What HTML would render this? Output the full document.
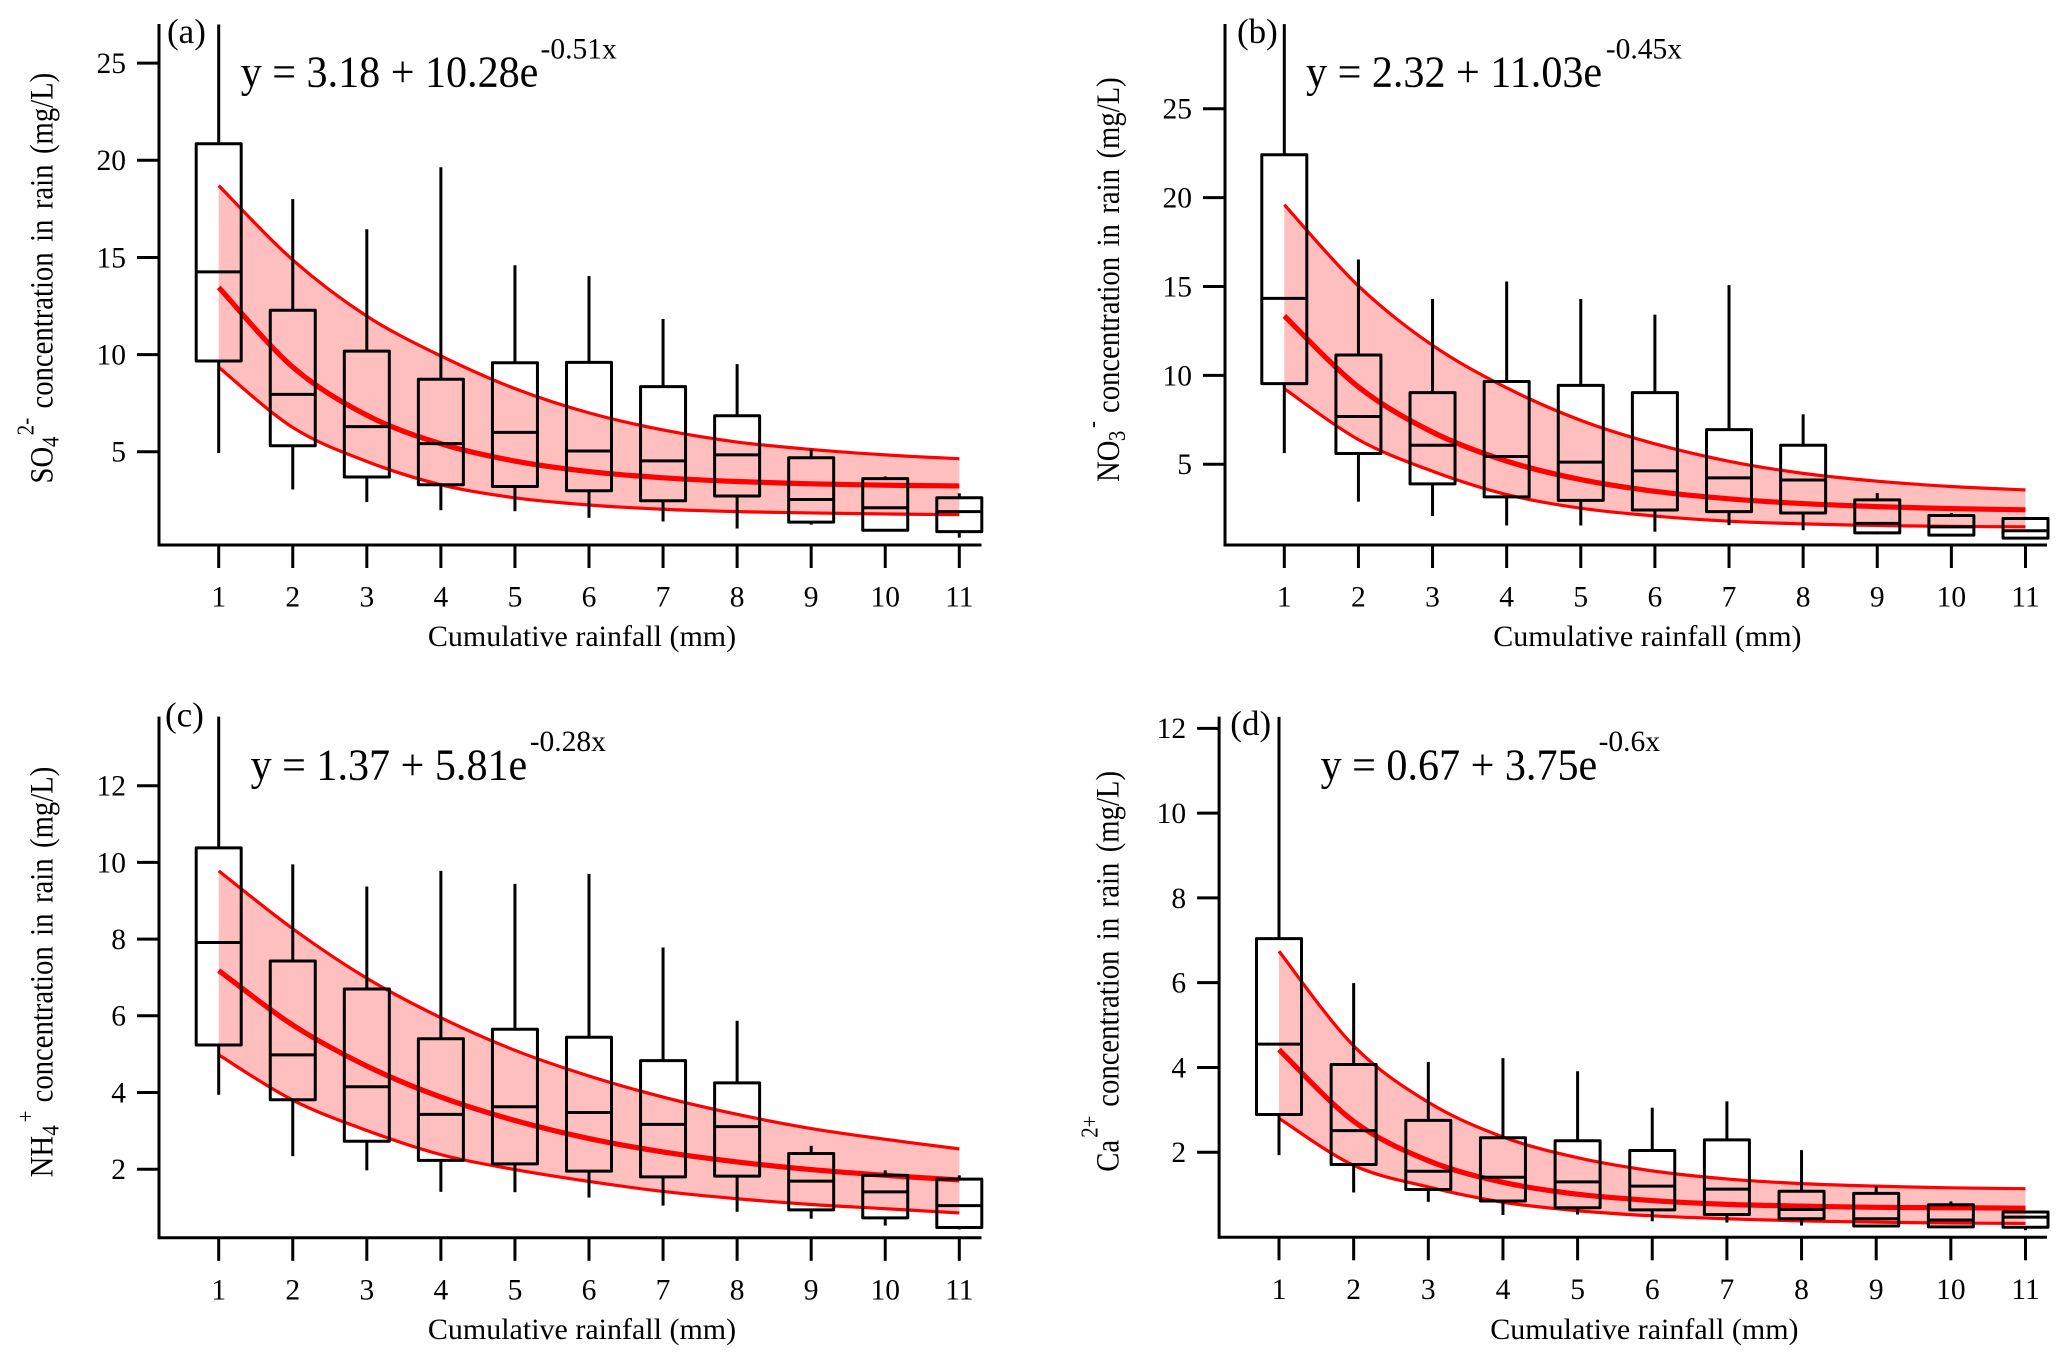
<!DOCTYPE html>
<html lang="en">
<head>
<meta charset="utf-8">
<title>Ion concentration in rain vs cumulative rainfall</title>
<style>
html,body{margin:0;padding:0;background:#fff;}
svg{display:block;}
text{font-family:"Liberation Serif",serif;fill:#000;}
.ytitle{font-size:33px;word-spacing:3.8px;}
.ss{font-size:24px;}
</style>
</head>
<body>
<svg id="figure" xmlns="http://www.w3.org/2000/svg" width="2067" height="1362" viewBox="0 0 2067 1362">
<rect width="2067" height="1362" fill="#fff"/>

<g id="panel-a"></g>
<g id="panel-b"></g>
<g id="panel-c"></g>
<g id="panel-d"></g>

<!-- Panel a text -->
<text x="167" y="43" font-size="35">(a)</text>
<text transform="translate(240.7,86.7) scale(0.957,1)" font-size="44">y = 3.18 + 10.28e</text>
<text x="540.5" y="58.5" font-size="29.5">-0.51x</text>
<text x="582" y="646" font-size="30" text-anchor="middle">Cumulative rainfall (mm)</text>
<text class="ytitle" transform="translate(52.3,483.5) rotate(-90) scale(0.87,1)">SO<tspan class="ss" x="42" dy="6">4</tspan><tspan class="ss" x="55.5" dy="-25">2-</tspan><tspan x="86.2" dy="19">concentration in rain (mg/L)</tspan></text>

<!-- Panel b text -->
<text x="1237" y="43" font-size="35">(b)</text>
<text transform="translate(1306,86.7) scale(0.957,1)" font-size="44">y = 2.32 + 11.03e</text>
<text x="1605.8" y="58.5" font-size="29.5">-0.45x</text>
<text x="1647.4" y="646" font-size="30" text-anchor="middle">Cumulative rainfall (mm)</text>
<text class="ytitle" transform="translate(1118.8,482) rotate(-90) scale(0.87,1)">NO<tspan class="ss" x="47" dy="6">3</tspan><tspan class="ss" x="62" dy="-25">-</tspan><tspan x="79.3" dy="19">concentration in rain (mg/L)</tspan></text>

<!-- Panel c text -->
<text x="165" y="726.6" font-size="35">(c)</text>
<text transform="translate(250.6,779.4) scale(0.957,1)" font-size="44">y = 1.37 + 5.81e</text>
<text x="529.7" y="751" font-size="29.5">-0.28x</text>
<text x="582" y="1339" font-size="30" text-anchor="middle">Cumulative rainfall (mm)</text>
<text class="ytitle" transform="translate(52.3,1177.4) rotate(-90) scale(0.87,1)">NH<tspan class="ss" x="48" dy="6">4</tspan><tspan class="ss" x="63.2" dy="-25">+</tspan><tspan x="86.2" dy="19">concentration in rain (mg/L)</tspan></text>

<!-- Panel d text -->
<text x="1230.3" y="735" font-size="35">(d)</text>
<text transform="translate(1320.6,779.4) scale(0.957,1)" font-size="44">y = 0.67 + 3.75e</text>
<text x="1598.6" y="751" font-size="29.5">-0.6x</text>
<text x="1644.4" y="1339" font-size="30" text-anchor="middle">Cumulative rainfall (mm)</text>
<text class="ytitle" transform="translate(1118.3,1171.7) rotate(-90) scale(0.87,1)">Ca<tspan class="ss" x="39" dy="-21">2+</tspan><tspan x="74.7" dy="21">concentration in rain (mg/L)</tspan></text>
</svg>

<script>
const categories = [1, 2, 3, 4, 5, 6, 7, 8, 9, 10, 11];

const aYTicks = [5, 10, 15, 20, 25];
const aHigh = [26.99, 18.0, 16.45, 19.64, 14.6, 14.04, 11.83, 9.51, 5.11, 3.73, 2.86];
const aQ3 = [20.85, 12.28, 10.18, 8.73, 9.58, 9.6, 8.35, 6.85, 4.69, 3.62, 2.63];
const aMedian = [14.26, 7.95, 6.29, 5.42, 6.0, 5.04, 4.53, 4.84, 2.54, 2.12, 1.92];
const aQ1 = [9.67, 5.31, 3.7, 3.3, 3.21, 2.99, 2.48, 2.72, 1.38, 0.96, 0.89];
const aLow = [4.93, 3.06, 2.41, 1.99, 1.94, 1.6, 1.41, 1.05, 1.25, 0.96, 0.58];
const aBandUpper = [18.7, 14.87, 11.98, 9.93, 8.25, 7.0, 6.12, 5.5, 5.12, 4.84, 4.64];
const aFit = [13.46, 9.36, 6.88, 5.41, 4.52, 3.98, 3.66, 3.47, 3.35, 3.28, 3.24];
const aBandLower = [9.35, 6.25, 4.5, 3.3, 2.63, 2.26, 2.04, 1.92, 1.85, 1.8, 1.76];

const bYTicks = [5, 10, 15, 20, 25];
const bHigh = [29.76, 16.52, 14.3, 15.28, 14.3, 13.42, 15.08, 7.81, 3.39, 2.26, 2.04];
const bQ3 = [22.41, 11.15, 9.03, 9.66, 9.44, 9.03, 6.95, 6.07, 3.0, 2.12, 1.95];
const bMedian = [14.33, 7.69, 6.07, 5.44, 5.12, 4.63, 4.24, 4.12, 1.68, 1.48, 1.26];
const bQ1 = [9.54, 5.61, 3.9, 3.17, 2.97, 2.43, 2.34, 2.26, 1.14, 1.02, 0.85];
const bLow = [5.63, 2.9, 2.09, 1.56, 1.56, 1.21, 1.58, 1.29, 1.07, 1.02, 0.85];
const bBandUpper = [19.6, 15.03, 11.69, 9.3, 7.47, 6.15, 5.17, 4.49, 4.05, 3.75, 3.56];
const bFit = [13.35, 9.35, 6.81, 5.18, 4.14, 3.48, 3.06, 2.79, 2.62, 2.51, 2.44];
const bBandLower = [9.25, 6.39, 4.61, 3.3, 2.53, 2.09, 1.8, 1.65, 1.56, 1.51, 1.48];

const cYTicks = [2, 4, 6, 8, 10, 12];
const cHigh = [13.8, 9.95, 9.37, 9.78, 9.44, 9.7, 7.78, 5.87, 2.61, 1.97, 1.84];
const cQ3 = [10.38, 7.43, 6.7, 5.4, 5.65, 5.44, 4.83, 4.25, 2.41, 1.84, 1.74];
const cMedian = [7.91, 4.98, 4.15, 3.43, 3.63, 3.48, 3.17, 3.11, 1.69, 1.41, 1.05];
const cQ1 = [5.24, 3.81, 2.73, 2.23, 2.14, 1.95, 1.8, 1.82, 0.94, 0.73, 0.48];
const cLow = [3.94, 2.34, 1.97, 1.41, 1.4, 1.26, 1.05, 0.89, 0.71, 0.53, 0.43];
const cBandUpper = [9.78, 8.27, 6.98, 5.95, 5.1, 4.43, 3.88, 3.43, 3.06, 2.78, 2.53];
const cFit = [7.18, 5.76, 4.69, 3.88, 3.27, 2.8, 2.45, 2.19, 1.99, 1.84, 1.72];
const cBandLower = [4.98, 3.8, 3.01, 2.38, 1.99, 1.68, 1.42, 1.23, 1.08, 0.97, 0.86];

const dYTicks = [2, 4, 6, 8, 10, 12];
const dHigh = [12.27, 5.99, 4.13, 4.22, 3.91, 3.05, 3.2, 2.05, 1.19, 0.84, 0.6];
const dQ3 = [7.04, 4.07, 2.75, 2.34, 2.27, 2.04, 2.29, 1.08, 1.03, 0.76, 0.59];
const dMedian = [4.55, 2.51, 1.55, 1.41, 1.3, 1.2, 1.13, 0.65, 0.43, 0.4, 0.47];
const dQ1 = [2.89, 1.71, 1.12, 0.85, 0.69, 0.64, 0.53, 0.43, 0.26, 0.24, 0.23];
const dLow = [1.93, 1.05, 0.83, 0.52, 0.53, 0.37, 0.34, 0.27, 0.25, 0.23, 0.16];
const dBandUpper = [6.74, 4.51, 3.18, 2.36, 1.87, 1.56, 1.37, 1.26, 1.2, 1.16, 1.14];
const dFit = [4.42, 2.73, 1.8, 1.29, 1.01, 0.86, 0.77, 0.73, 0.7, 0.69, 0.68];
const dBandLower = [2.8, 1.69, 1.18, 0.82, 0.62, 0.5, 0.43, 0.38, 0.35, 0.33, 0.32];

const SVG_NS = 'http://www.w3.org/2000/svg';
const STROKE = 3;
const BOX_HALF = 22.5;
const TICK_LEN = 22;
const BAND_FILL = '#ffbfbf';
const LINE_RED = '#ff0000';

function make(parent, tag, attrs, text) {
  const el = document.createElementNS(SVG_NS, tag);
  for (const k in attrs) el.setAttribute(k, attrs[k]);
  if (text !== undefined) el.textContent = text;
  parent.appendChild(el);
  return el;
}

function spline(points) {
  let d = '';
  for (let i = 0; i < points.length - 1; i++) {
    const p0 = points[Math.max(i - 1, 0)];
    const p1 = points[i];
    const p2 = points[i + 1];
    const p3 = points[Math.min(i + 2, points.length - 1)];
    const c1x = p1[0] + (p2[0] - p0[0]) / 6;
    const c1y = p1[1] + (p2[1] - p0[1]) / 6;
    const c2x = p2[0] - (p3[0] - p1[0]) / 6;
    const c2y = p2[1] - (p3[1] - p1[1]) / 6;
    d += ' C' + c1x.toFixed(2) + ' ' + c1y.toFixed(2) + ' ' + c2x.toFixed(2) + ' ' + c2y.toFixed(2) + ' ' + p2[0].toFixed(2) + ' ' + p2[1].toFixed(2);
  }
  return d;
}

function drawPanel(p) {
  const root = document.getElementById('panel-' + p.id);
  const xScale = function (c) { return p.xFirst + (c - categories[0]) * p.xStep; };
  const yScale = function (v) { return p.yZero - v * p.yUnit; };
  const toPoints = function (vals) { return vals.map(function (v, i) { return [xScale(categories[i]), yScale(v)]; }); };

  const upper = toPoints(p.bandUpper);
  const lower = toPoints(p.bandLower);
  const fit = toPoints(p.fit);
  const rev = lower.slice().reverse();

  const band = make(root, 'path', {
    d: 'M' + upper[0][0] + ' ' + upper[0][1] + spline(upper) + ' L' + rev[0][0] + ' ' + rev[0][1] + spline(rev) + ' Z',
    fill: BAND_FILL, stroke: 'none'
  });
  
  

  const upperLine = make(root, 'path', {
    d: 'M' + upper[0][0] + ' ' + upper[0][1] + spline(upper),
    fill: 'none', stroke: LINE_RED, 'stroke-width': 3.2
  });
  
  

  const lowerLine = make(root, 'path', {
    d: 'M' + lower[0][0] + ' ' + lower[0][1] + spline(lower),
    fill: 'none', stroke: LINE_RED, 'stroke-width': 3.2
  });
  
  

  const fitLine = make(root, 'path', {
    d: 'M' + fit[0][0] + ' ' + fit[0][1] + spline(fit),
    fill: 'none', stroke: LINE_RED, 'stroke-width': 5.2
  });
  
  

  categories.forEach(function (c, i) {
    const x = xScale(c);
    const g = make(root, 'g', { fill: 'none', stroke: '#000', 'stroke-width': STROKE, 'stroke-linejoin': 'round' });
    
    

    const hi = make(g, 'line', { x1: x, x2: x, y1: yScale(p.high[i]), y2: yScale(p.q3[i]) });
    
    

    const lo = make(g, 'line', { x1: x, x2: x, y1: yScale(p.q1[i]), y2: yScale(p.low[i]) });
    
    

    const rect = make(g, 'rect', {
      x: x - BOX_HALF, width: BOX_HALF * 2,
      y: yScale(p.q3[i]), height: yScale(p.q1[i]) - yScale(p.q3[i])
    });
    
    

    const med = make(g, 'line', { x1: x - BOX_HALF, x2: x + BOX_HALF, y1: yScale(p.median[i]), y2: yScale(p.median[i]) });
    
    
  });

  const yAxis = make(root, 'line', { x1: p.axisX, x2: p.axisX, y1: p.axisTop, y2: p.axisBottom + STROKE / 2, stroke: '#000', 'stroke-width': STROKE });
  
  

  const xAxis = make(root, 'line', { x1: p.axisX, x2: p.axisRight, y1: p.axisBottom, y2: p.axisBottom, stroke: '#000', 'stroke-width': STROKE });
  
  

  p.yTicks.forEach(function (t) {
    const y = yScale(t);
    const tick = make(root, 'line', { x1: p.axisX - TICK_LEN, x2: p.axisX, y1: y, y2: y, stroke: '#000', 'stroke-width': STROKE });
    
    

    const label = make(root, 'text', { x: p.axisX - TICK_LEN - 11, y: y + 9.9, 'font-size': 29.5, 'text-anchor': 'end' }, String(t));
    
    
  });

  categories.forEach(function (c) {
    const x = xScale(c);
    const tick = make(root, 'line', { x1: x, x2: x, y1: p.axisBottom, y2: p.axisBottom + TICK_LEN + 1, stroke: '#000', 'stroke-width': STROKE });
    
    

    const label = make(root, 'text', { x: x, y: p.axisBottom + 61.7, 'font-size': 29.5, 'text-anchor': 'middle' }, String(c));
    
    
  });
}

drawPanel({ id: 'a', axisX: 159, axisTop: 24, axisBottom: 545, axisRight: 981.5, xFirst: 218.7, xStep: 74.06, yZero: 548.9, yUnit: 19.43,
  yTicks: aYTicks, high: aHigh, q3: aQ3, median: aMedian, q1: aQ1, low: aLow, bandUpper: aBandUpper, fit: aFit, bandLower: aBandLower });
drawPanel({ id: 'b', axisX: 1225, axisTop: 24, axisBottom: 545, axisRight: 2047, xFirst: 1284.3, xStep: 74.12, yZero: 553.2, yUnit: 17.78,
  yTicks: bYTicks, high: bHigh, q3: bQ3, median: bMedian, q1: bQ1, low: bLow, bandUpper: bBandUpper, fit: bFit, bandLower: bBandLower });
drawPanel({ id: 'c', axisX: 159, axisTop: 716.6, axisBottom: 1237.8, axisRight: 981.5, xFirst: 218.7, xStep: 74.06, yZero: 1245.9, yUnit: 38.35,
  yTicks: cYTicks, high: cHigh, q3: cQ3, median: cMedian, q1: cQ1, low: cLow, bandUpper: cBandUpper, fit: cFit, bandLower: cBandLower });
drawPanel({ id: 'd', axisX: 1219.1, axisTop: 716.6, axisBottom: 1237.3, axisRight: 2047, xFirst: 1279, xStep: 74.65, yZero: 1237, yUnit: 42.39,
  yTicks: dYTicks, high: dHigh, q3: dQ3, median: dMedian, q1: dQ1, low: dLow, bandUpper: dBandUpper, fit: dFit, bandLower: dBandLower });
</script>
</body>
</html>
